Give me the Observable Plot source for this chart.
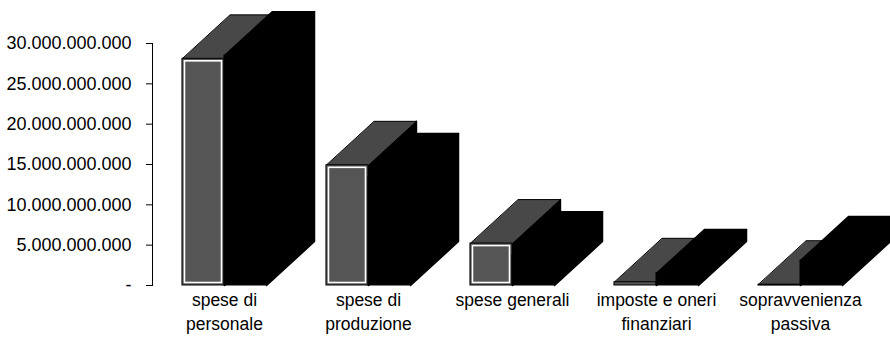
<!DOCTYPE html>
<html><head><meta charset="utf-8">
<script src="https://cdn.jsdelivr.net/npm/d3@7"></script>
<script src="https://cdn.jsdelivr.net/npm/@observablehq/plot@0.6"></script>
<style>body{margin:0;background:#fff}</style>
</head><body><div id="chart"></div>
<script>
// ---- data ----
const categories = ["spese di\npersonale", "spese di\nproduzione", "spese generali", "imposte e oneri\nfinanziari", "sopravvenienza\npassiva"];
const frontSeries = [28.1e9, 14.9e9, 5.2e9, 0.4e9, 0.1e9];
const backSeries = [28.5e9, 13.4e9, 3.7e9, 1.5e9, 3.1e9];
const yTicks = [0, 5e9, 10e9, 15e9, 20e9, 25e9, 30e9];

// ---- 3D geometry (in scale units) ----
const W = 0.292;   // bar width (category units)
const DX = 0.333;  // depth offset along x (category units)
const DY = 5.45e9; // depth offset along y (value units)

const bars = categories.map((c, i) => ({i, front: frontSeries[i], back: backSeries[i]}));

function topFace(x0, x1, v, id) {
  return [[x0, v], [x1, v], [x1 + DX, v + DY], [x0 + DX, v + DY]].map(([x, y]) => ({id, x, y}));
}
function sideFace(x1, v, id) {
  return [[x1, 0], [x1, v], [x1 + DX, v + DY], [x1 + DX, DY]].map(([x, y]) => ({id, x, y}));
}
const greyTops = bars.flatMap(b => topFace(b.i - W, b.i, b.front, "gt" + b.i));
const greySides = bars.flatMap(b => sideFace(b.i, b.front, "gs" + b.i));
const blackTops = bars.flatMap(b => topFace(b.i, b.i + W, b.back, "bt" + b.i));
const blackSides = bars.flatMap(b => sideFace(b.i + W, b.back, "bs" + b.i));

const locale = d3.formatLocale({decimal: ",", thousands: ".", grouping: [3], currency: ["", ""]});
const fmt = locale.format(",");

const chart = Plot.plot({
  width: 890,
  height: 346,
  marginLeft: 152,
  marginRight: 18,
  marginTop: 43,
  marginBottom: 61,
  style: {fontFamily: "'Liberation Sans', Arial, sans-serif", color: "#000", background: "#fff"},
  x: {domain: [-0.5, 4.5]},
  y: {domain: [0, 30e9]},
  marks: [
    Plot.line(greySides, {x: "x", y: "y", z: "id", fill: "#000", stroke: "#000", curve: "linear-closed"}),
    Plot.line(greyTops, {x: "x", y: "y", z: "id", fill: "#484848", stroke: "#000", strokeWidth: 1, curve: "linear-closed"}),
    Plot.rect(bars, {x1: d => d.i - W, x2: d => d.i, y1: 0, y2: "front", fill: "#555", stroke: "#000"}),
    Plot.rect(bars, {x1: d => d.i - W, x2: d => d.i, y1: 0, y2: "front", fill: "none", stroke: "#fff", strokeWidth: 1.6, inset: 2.5}),
    Plot.line(blackSides, {x: "x", y: "y", z: "id", fill: "#000", stroke: "#000", curve: "linear-closed"}),
    Plot.line(blackTops, {x: "x", y: "y", z: "id", fill: "#000", stroke: "#000", curve: "linear-closed"}),
    Plot.rect(bars, {x1: "i", x2: d => d.i + W, y1: 0, y2: "back", fill: "#000", stroke: "#000"}),
    Plot.frame({anchor: "left", stroke: "#000"}),
    Plot.axisY(yTicks, {tickSize: 6, tickPadding: 15, fontSize: 18, tickFormat: d => d === 0 ? "-" : fmt(d), stroke: "#000"}),
    Plot.axisX(d3.range(categories.length), {tickSize: 0, tickPadding: 4, fontSize: 17.5, lineHeight: 1.35, tickFormat: i => categories[i]})
  ]
});
document.getElementById("chart").appendChild(chart);
</script>
</body></html>
